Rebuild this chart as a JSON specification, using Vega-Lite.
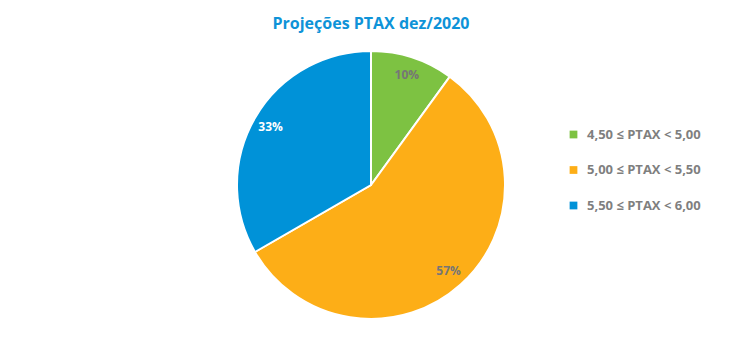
{
  "$schema": "https://vega.github.io/schema/vega-lite/v6.json",
  "width": 742,
  "height": 342,
  "autosize": {"type": "none"},
  "padding": {"left": 0, "top": 14, "right": 8, "bottom": 0},
  "background": "white",
  "title": {
    "text": "Projeções PTAX dez/2020",
    "color": "#0e93d8",
    "font": "Open Sans",
    "fontSize": 16,
    "fontWeight": "bold",
    "anchor": "middle",
    "offset": -16,
    "dy": 2
  },
  "data": {
    "values": [
      {"faixa": "4,50 ≤ PTAX < 5,00", "ordem": 1, "qtd": 3, "rotulo": "10%"},
      {"faixa": "5,00 ≤ PTAX < 5,50", "ordem": 2, "qtd": 17, "rotulo": "57%"},
      {"faixa": "5,50 ≤ PTAX < 6,00", "ordem": 3, "qtd": 10, "rotulo": "33%"}
    ]
  },
  "encoding": {
    "theta": {"field": "qtd", "type": "quantitative", "stack": true},
    "order": {"field": "ordem", "type": "quantitative", "sort": "ascending"}
  },
  "layer": [
    {
      "mark": {"type": "arc", "outerRadius": 134, "stroke": "white", "strokeWidth": 2},
      "encoding": {
        "color": {
          "field": "faixa",
          "type": "nominal",
          "scale": {"range": ["#7dc242", "#fdae17", "#0092d8"]},
          "legend": {
            "title": null,
            "orient": "none",
            "legendX": 567,
            "legendY": 114,
            "symbolType": "square",
            "symbolSize": 60,
            "symbolStrokeWidth": 0,
            "labelFont": "Open Sans",
            "labelFontSize": 13,
            "labelFontWeight": "bold",
            "labelColor": "#7f7f7f",
            "rowPadding": 21.5,
            "labelOffset": 7
          }
        }
      }
    },
    {
      "mark": {"type": "text", "radius": 116, "font": "Open Sans", "fontSize": 12, "fontWeight": "bold"},
      "encoding": {
        "detail": {"field": "faixa", "type": "nominal"},
        "text": {"field": "rotulo", "type": "nominal"},
        "color": {
          "condition": {"test": "datum.faixa === '5,50 ≤ PTAX < 6,00'", "value": "white"},
          "value": "#767676"
        }
      }
    }
  ],
  "config": {"view": {"stroke": null}}
}
